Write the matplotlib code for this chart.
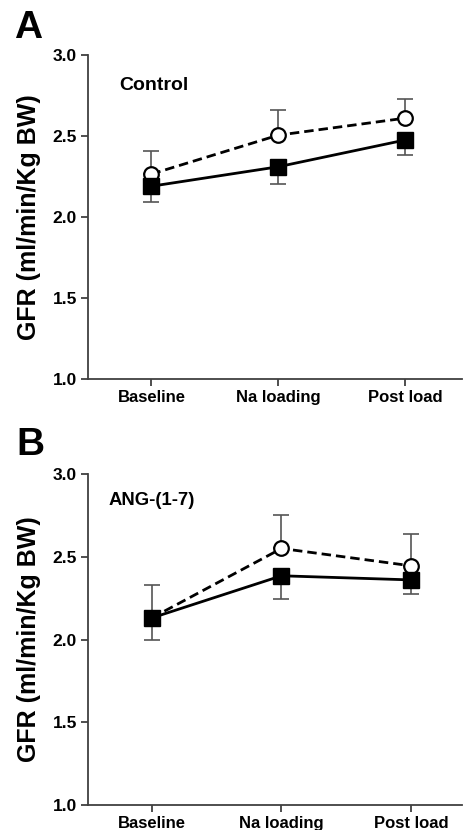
import matplotlib
matplotlib.use("Agg")
import matplotlib.pyplot as plt

plt.rcParams['font.family'] = ['Liberation Sans', 'DejaVu Sans']

categories = ["Baseline", "Na loading", "Post load"]

# Panel A (Control)
a_open = [2.265, 2.505, 2.61]
a_open_err = [0.14, 0.155, 0.12]
a_filled = [2.19, 2.31, 2.475]
a_filled_err = [0.10, 0.105, 0.095]

# Panel B (ANG-(1-7))
b_open = [2.13, 2.55, 2.445]
b_open_err = [0.20, 0.20, 0.195]
b_filled = [2.13, 2.385, 2.36]
b_filled_err = [0.13, 0.14, 0.085]

yticks = [1.0, 1.5, 2.0, 2.5, 3.0]
ytick_labels = ["1.0", "1.5", "2.0", "2.5", "3.0"]

fig = plt.figure(figsize=(4.63, 8.30), dpi=100)

W, H = 463, 830
def ax_rect(left, right, top, bottom):
    return [left / W, 1 - bottom / H, (right - left) / W, (bottom - top) / H]

spine_col = "#404040"
err_col = "#555555"

def draw(ax, openv, opene, filledv, fillede, label, xlim):
    x = list(range(len(categories)))
    # error bars (one-sided)
    ax.errorbar(x, openv, yerr=[[0]*3, opene], fmt='none', ecolor=err_col,
                elinewidth=1.2, capsize=6, capthick=1.2, zorder=2)
    ax.errorbar(x, filledv, yerr=[fillede, [0]*3], fmt='none', ecolor=err_col,
                elinewidth=1.2, capsize=6, capthick=1.2, zorder=2)
    ax.plot(x, openv, linestyle=(0, (3.4, 1.8)), color='black', linewidth=2.0,
            marker='o', markersize=10.5, markerfacecolor='white',
            markeredgecolor='black', markeredgewidth=1.6, zorder=3)
    ax.plot(x, filledv, linestyle='-', color='black', linewidth=2.0,
            marker='s', markersize=11.5, markerfacecolor='black',
            markeredgecolor='black', zorder=4)
    ax.set_ylim(1.0, 3.0)
    ax.set_xlim(*xlim)
    ax.set_yticks(yticks)
    ax.set_yticklabels(ytick_labels, fontsize=12.5, fontweight='bold')
    ax.set_xticks(x)
    ax.set_xticklabels(categories, fontsize=12, fontweight='bold')
    for s in ['top', 'right']:
        ax.spines[s].set_visible(False)
    for s in ['left', 'bottom']:
        ax.spines[s].set_color(spine_col)
        ax.spines[s].set_linewidth(1.3)
    ax.tick_params(axis='both', direction='out', length=5, width=1.3,
                   color=spine_col, pad=3)
    ax.set_ylabel("GFR (ml/min/Kg BW)", fontsize=18, fontweight='bold', labelpad=8)
    ax.text(label[1], label[2], label[0], transform=ax.transAxes,
            fontsize=label[3], fontweight='bold', ha='left', va='center')

axA = fig.add_axes(ax_rect(88, 462, 55, 379))
draw(axA, a_open, a_open_err, a_filled, a_filled_err,
     ("Control", 0.083, 0.905, 14), (-0.5, 2.45))
axB = fig.add_axes(ax_rect(88, 462, 474, 805))
draw(axB, b_open, b_open_err, b_filled, b_filled_err,
     ("ANG-(1-7)", 0.054, 0.92, 13.3), (-0.49, 2.39))

fig.text(14 / W, 1 - 28 / H, "A", fontsize=28, fontweight='bold', ha='left', va='center')
fig.text(16 / W, 1 - 445 / H, "B", fontsize=28, fontweight='bold', ha='left', va='center')

fig.savefig("out.png", dpi=100)
